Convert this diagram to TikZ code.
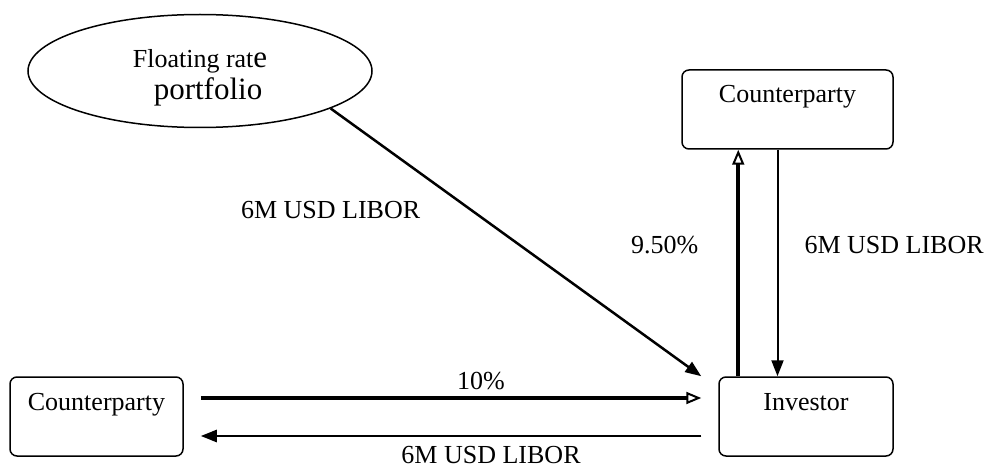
\documentclass[tikz,border=0pt]{standalone}
\usepackage{fontspec}
\setmainfont{Liberation Serif}
\usepackage{tikz}
\usetikzlibrary{arrows.meta, shapes.geometric, positioning}
\tikzset{
x=1pt, y=-1pt, % one unit is one pixel of the layout, y runs down
every node/.style={font=\fontsize{26}{31}\selectfont}, % sets the text size
box/.style={draw, line width=1.5pt, rounded corners=7pt, inner xsep=0pt, inner ysep=16pt, text height=17pt, text depth=30pt}, % the party boxes, text near the top
pool/.style={draw, ellipse, line width=1.5pt, minimum width=344pt, minimum height=113pt, align=center, inner sep=0pt}, % the portfolio
lbl/.style={inner sep=0pt}, % labels on the flows
flow/.style={-{Triangle[length=16pt, width=12pt]}, line width=2.5pt}, % plain payment flow
fatflow/.style={-{Triangle[open, length=15pt, width=12pt, line width=2pt]}, line width=4pt}, % fixed payment flow
}

\begin{document}
\begin{tikzpicture}
    \useasboundingbox (0,0) rectangle (989,468);

    \node[pool] (port) at (200,71) {\raisebox{-7pt}[\height][\depth]{Floating rat{\fontsize{31}{31}\selectfont e}}\\[1pt]\raisebox{-7pt}[\height][\depth]{\fontsize{31}{31}\selectfont\hspace{16pt}portfolio}};
    \node[box, minimum width=211pt] (cpt) at (787.5,109.5) {Counterparty};
    \node[box, minimum width=174pt] (inv) at (806,416.5) {Investor};
    \node[box, minimum width=173pt] (cpl) at (96.5,416.5) {Counterparty};

    \draw (port.-16) edge[flow] node[lbl, pos=0.38, anchor=east, xshift=-50pt]{6M USD LIBOR} ([xshift=-17pt]inv.north west)
          ([xshift=20pt]inv.north west) edge[fatflow] node[lbl, pos=0.58, anchor=east, xshift=-38pt]{9.50\%} ([xshift=20pt]inv.north west |- cpt.south)
          ([xshift=-10pt]cpt.south) edge[flow, line width=2pt] node[lbl, pos=0.42, anchor=west, xshift=26pt]{6M USD LIBOR} ([xshift=-10pt]cpt.south |- inv.north)
          ([xshift=17pt, yshift=18.5pt]cpl.east) edge[fatflow] node[lbl, pos=0.56, anchor=base, yshift=9pt]{10\%} ([xshift=-17pt, yshift=18.5pt]inv.west)
          ([xshift=-17pt, yshift=-19.5pt]inv.west) edge[flow] node[lbl, pos=0.42, anchor=base, yshift=-27pt]{6M USD LIBOR} ([xshift=17pt, yshift=-19.5pt]cpl.east);
\end{tikzpicture}
\end{document}
